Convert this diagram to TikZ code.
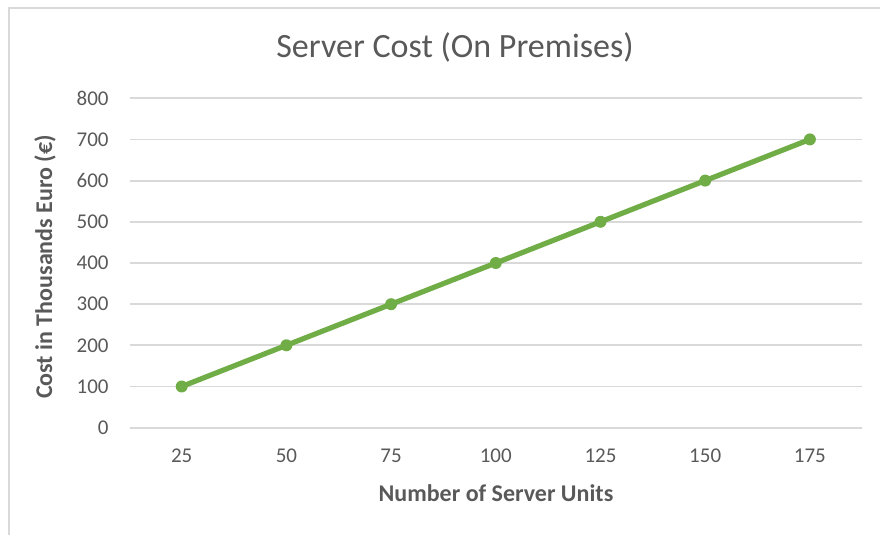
\documentclass[tikz,border=0pt]{standalone}
\usepackage{fontspec}
\setmainfont{Carlito}
\usepackage{tikz}
\usetikzlibrary{positioning}

\definecolor{chartgray}{HTML}{595959}
\definecolor{gridgray}{HTML}{D9D9D9}
\definecolor{costgreen}{HTML}{70AD47}

\begin{document}
\begin{tikzpicture}[
    x=0.5pt, y=-0.5pt,
    grid/.style={draw=gridgray, line width=0.9pt},
    ticklabel/.style={text=chartgray, font=\fontsize{10.5}{12}\selectfont, inner sep=0pt},
    axistitle/.style={text=chartgray, font=\bfseries\fontsize{12}{14}\selectfont, inner sep=0pt},
    datapoint/.style={circle, fill=costgreen, minimum size=6pt, inner sep=0pt},
    costline/.style={draw=costgreen, line width=2.6pt, line cap=round, line join=round}
]

\useasboundingbox (0,0) rectangle (880,535);

% Chart frame
\draw[gridgray, line width=0.8pt] (9,535) -- (9,8) -- (880,8);

% Title
\node[text=chartgray, font=\fontsize{17}{20}\selectfont, inner sep=0pt] (title) at (455,47) {Server Cost (On Premises)};

% Gridlines and value labels
\foreach \v [count=\k from 0] in {0,100,...,800} {
    \draw[grid] (129.5,427.7-41.18*\k) -- (862,427.7-41.18*\k);
    \node[ticklabel, anchor=east] (ylab\k) at (109,427.7-41.18*\k) {\v};
}

% Category labels
\foreach \c [count=\k from 0] in {25,50,...,175} {
    \node[ticklabel] (xlab\k) at (181.7+104.7*\k,456) {\c};
}

% Axis titles
\node[axistitle] (xtitle) at (496,493) {Number of Server Units};
\node[axistitle, rotate=90] (ytitle) at (45,267) {Cost in Thousands Euro (€)};

% Data points
\node[datapoint] (p1) at (181.7,386.5) {};
\node[datapoint] (p2) at (286.4,345.3) {};
\node[datapoint] (p3) at (391.1,304.2) {};
\node[datapoint] (p4) at (495.8,263.0) {};
\node[datapoint] (p5) at (600.5,221.8) {};
\node[datapoint] (p6) at (705.2,180.6) {};
\node[datapoint] (p7) at (809.9,139.4) {};

% Cost line
\draw[costline] (p1.center) -- (p2.center) -- (p3.center) -- (p4.center)
    -- (p5.center) -- (p6.center) -- (p7.center);

\end{tikzpicture}
\end{document}
